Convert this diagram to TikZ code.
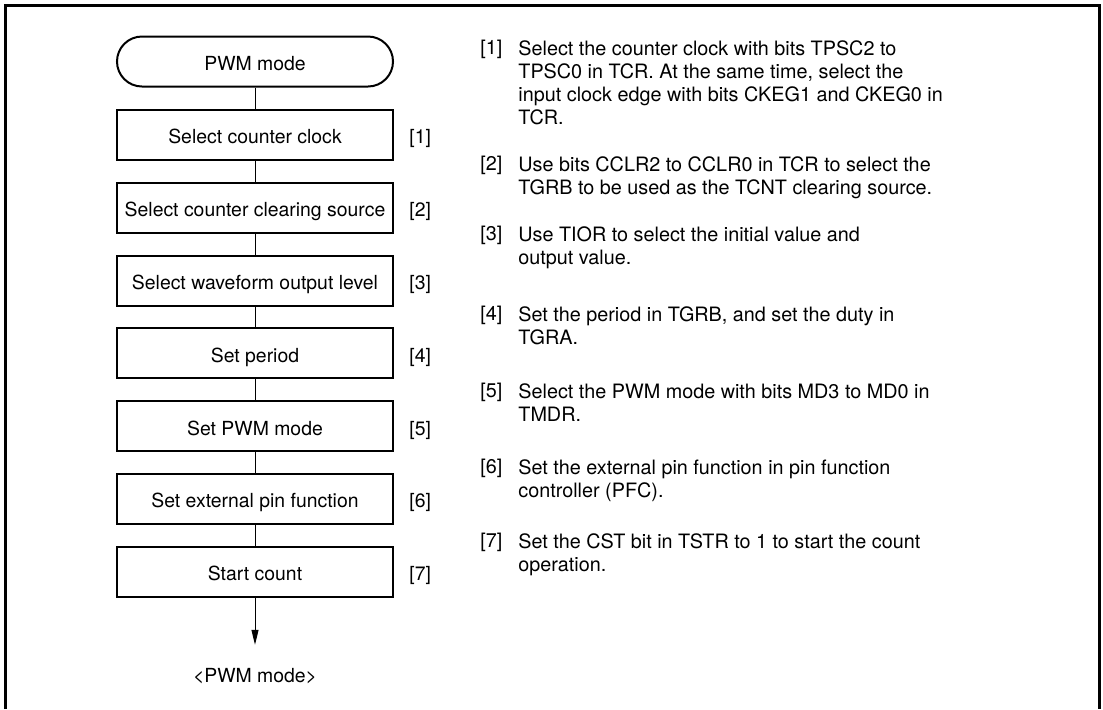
\documentclass[tikz,border=0pt]{standalone}
\usepackage{fontspec}
\setmainfont{TeX Gyre Heros}
\usetikzlibrary{positioning,arrows.meta}
\newcommand{\fsz}{\fontsize{9.7}{11.5}\selectfont}
\newcommand{\nsz}{\fontsize{9.9}{11.5}\selectfont}
\tikzset{
  fbox/.style={draw, line width=1pt, minimum width=138pt, minimum height=25pt,
               inner sep=0pt, font=\fsz, text height=8.8pt, text depth=0pt},
  fterm/.style={fbox, rounded corners=12.5pt},
  ftag/.style={inner sep=0pt, font=\fsz, text height=8.8pt, text depth=0pt},
  fnum/.style={inner sep=0pt, font=\nsz, anchor=north west},
  fnote/.style={fnum, align=left},
  fl/.style={line width=0.5pt},
  fa/.style={fl, -{Triangle[length=7.5pt,width=3.5pt]}}
}
\begin{document}
\begin{tikzpicture}[x=0.5pt, y=-0.5pt, node distance=10.4pt]
  \useasboundingbox (0,0) rectangle (1103,709);
  \draw[line width=1.5pt] (5,709) -- (5,5) -- (1099,5) -- (1099,709);
  % flow chart
  \node[fterm] (s0) at (255,61.5) {PWM mode};
  \node[fbox, below=10.75pt of s0] (s1) {Select counter clock};
  \node[fbox, below=of s1] (s2) {Select counter clearing source};
  \node[fbox, below=of s2] (s3) {Select waveform output level};
  \node[fbox, below=of s3] (s4) {Set period};
  \node[fbox, below=of s4] (s5) {Set PWM mode};
  \node[fbox, below=of s5] (s6) {Set external pin function};
  \node[fbox, below=of s6] (s7) {Start count};
  \coordinate[below=23.5pt of s7] (tip);
  \node[ftag, below=10pt of tip] (e) {<PWM mode>};
  \draw[fl] (s0)--(s1); \draw[fl] (s1)--(s2); \draw[fl] (s2)--(s3);
  \draw[fl] (s3)--(s4); \draw[fl] (s4)--(s5); \draw[fl] (s5)--(s6);
  \draw[fl] (s6)--(s7);
  \draw[fa] (s7)--(tip);
  \node[ftag, right=7.5pt of s1] (l1) {[1]};
  \node[ftag, right=7.5pt of s2] (l2) {[2]};
  \node[ftag, right=7.5pt of s3] (l3) {[3]};
  \node[ftag, right=7.5pt of s4] (l4) {[4]};
  \node[ftag, right=7.5pt of s5] (l5) {[5]};
  \node[ftag, right=7.5pt of s6] (l6) {[6]};
  \node[ftag, right=7.5pt of s7] (l7) {[7]};
  % notes
  \node[fnum] (t1) at (480,40) {[1]};
  \node[fnote] (n1) at (518,40) {Select the counter clock with bits TPSC2 to\\TPSC0 in TCR. At the same time, select the\\input clock edge with bits CKEG1 and CKEG0 in\\TCR.};
  \node[fnum] (t2) at (480,156) {[2]};
  \node[fnote] (n2) at (518,156) {Use bits CCLR2 to CCLR0 in TCR to select the\\TGRB to be used as the TCNT clearing source.};
  \node[fnum] (t3) at (480,226) {[3]};
  \node[fnote] (n3) at (518,226) {Use TIOR to select the initial value and\\output value.};
  \node[fnum] (t4) at (480,306) {[4]};
  \node[fnote] (n4) at (518,306) {Set the period in TGRB, and set the duty in\\TGRA.};
  \node[fnum] (t5) at (480,383) {[5]};
  \node[fnote] (n5) at (518,383) {Select the PWM mode with bits MD3 to MD0 in\\TMDR.};
  \node[fnum] (t6) at (480,459) {[6]};
  \node[fnote] (n6) at (518,459) {Set the external pin function in pin function\\controller (PFC).};
  \node[fnum] (t7) at (480,533) {[7]};
  \node[fnote] (n7) at (518,533) {Set the CST bit in TSTR to 1 to start the count\\operation.};
\end{tikzpicture}
\end{document}
